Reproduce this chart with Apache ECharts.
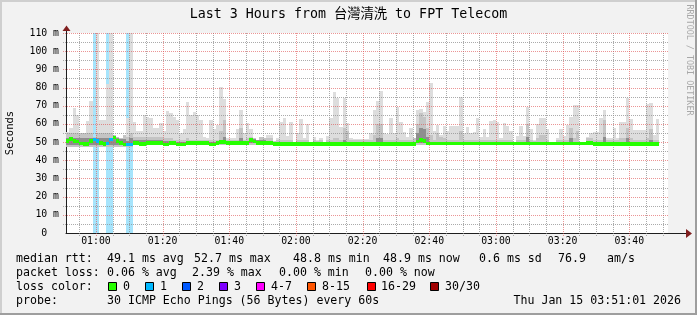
<!DOCTYPE html>
<html><head><meta charset="utf-8">
<script src="https://cdn.jsdelivr.net/npm/echarts@6/dist/echarts.min.js"></script>
<style>html,body{margin:0;padding:0;background:#f2f2f2;overflow:hidden}#c{width:697px;height:315px}</style>
</head><body><div id="c"></div>
<script>
// ---- data (minute-of-day of first column = 00:51) ----
const startMinute = 51;
const graphStart = 51 + 1/60;   // 00:51:01
const smokeMax = [
55.4,57.7,68.7,64.7,55,55,61.4,72.8,53,125,
62,62,82,125,54,53,52,54,63,125,
61,56,56,64.7,64,63,57.7,57.7,60.5,56,
67.3,65.8,64,62,55,57,72.2,64.9,66.7,64.9,
62,53,52,62,57,59.4,80.1,73.5,52,52,
52,57,67.6,55,60.3,57,52,51,53,52,
53.9,53.9,50.5,52,61.2,63,53.4,61.2,50.2,54.8,
62.5,52,60,50,53,51,52,50,53.4,63,
77.5,74,58.5,74.4,60.3,52,51.5,51.5,51.5,51.5,
51.5,54.8,67.6,72.6,78.3,54.8,54.5,63,54.8,69.5,
61.2,55.7,53,57.6,52,67.6,68,66.7,71.9,82.7,
56.3,59.4,53.9,58.8,56,58.8,58.8,58.8,74.6,54.8,
58.5,54.8,55.7,63.4,53,57,53,61.6,62,61.2,
52,60.7,58.8,56,50,53.4,58.8,53.4,69.5,57,
51,59.8,63.4,63.4,57,50,50,52,57,53.5,
59.4,64,70.4,70.4,50,50,53,55,55.7,55.7,
63,67.6,52,52,57.9,52,61.2,61.2,74.4,62.7,
56.6,56.6,56.6,56.6,70.8,71.5,53.9,62.7
];
const smokeMid = [
55,55,55,55,55,55,55,55,53,55,
55,55,55,55,54,54,54,54,53,55,
53,53,53,53,53,53,53,53,53,52,
52,52,51,51,51,51,52,51,51,51,
51,51,51,51,51,51,56,62,51,51,
51,51,58,51,52,53,53,53,53,52,
52,52,50.5,51,51,51,51,51,50.5,51,
51,51,51,50.5,51,50.5,51,50.5,51,51,
52,52,51,58,56,51,51,51,51,51,
51,51,54,60,60,51,51,51,51,52,
51,51,51,51,52,60,66,64,58,54,
51,55,53,52,51,51,51,51,56,51,
51,51,51,51,51,51,51,51,51,51,
51,51,51,51,50.5,51,51,51,60,51,
50.5,52,54,54,51,50.5,50.5,51,51,51,
51,58,52,56,50.5,50.5,52,52,51,51,
51,62,51,51,51,51,52,52,58,52,
51,51,51,51,52,57,51,51
];
const smokeDark = [
52.5,52.5,52.5,52.5,52,52,52,52.5,52,52.5,
52,52,52,52.5,53,52,51.5,51.5,50.5,52,
51,51,51,51,51,51,51,51,51,50.5,
50.5,50.5,50,50,50,50,50,50,50,50,
50,50,50,50,50,50,51,53,50,50,
50,50,52,50,50,51.5,51.5,51,51,51,
50,50,50,50,50,50,50,50,50,50,
50,50,50,50,50,50,50,50,50,50,
50,50,50,51,50,50,50,50,50,50,
50,50,50,52,52,50,50,50,50,50,
50,50,50,50,50,55,58,57,53,50,
50,50,50,50,50,50,50,50,50,50,
50,50,50,50,50,50,50,50,50,50,
50,50,50,50,50,50,50,50,53,50,
50,50,50,50,50,50,50,50,50,50,
50,52,50,50,50,50,50,50,50,50,
50,53,50,50,50,50,50,50,52,50,
50,50,50,50,50,51,50,50
];
const smokeMin = [
47.5,47.5,47.5,47.5,47.5,47.5,47.5,47.5,47.5,47.5,
47.5,47.5,47.5,47.5,47.5,47.5,47.5,47.5,47.5,47.5
]; // remaining columns use smokeMinDefault
const smokeMinDefault = 48.3;
const median = [
50.7,51.7,50.7,50.2,49.3,49.0,49.0,50.5,51.5,50.5,
49.5,49.0,49.3,51.5,52.6,50.5,49.5,48.6,48.8,48.8,
49.4,49.4,48.9,48.9,49.4,49.4,49.4,49.4,49.4,48.8,
48.8,49.4,49.4,48.7,48.7,48.7,49.4,49.4,49.4,49.4,
49.4,49.4,49.4,48.8,48.8,49.4,50.0,50.0,49.4,49.4,
49.4,49.4,49.4,49.4,49.4,51.2,50.4,49.4,49.4,49.4,
49.4,49.4,48.9,48.9,48.9,48.9,48.9,48.9,48.9,48.9,
48.9,48.9,48.9,48.9,48.9,48.9,48.9,48.9,48.9,48.9,
48.9,48.9,48.9,48.9,48.9,48.9,48.9,48.9,48.9,48.9,
48.9,48.9,48.9,48.9,48.9,48.9,48.9,48.9,48.9,48.9,
48.9,48.9,48.9,48.9,48.9,50.3,51.2,50.6,49.2,49.2,
49.2,49.2,49.2,49.2,49.2,49.2,49.2,49.2,49.2,49.2,
49.2,49.2,49.2,49.2,49.2,49.2,49.2,49.2,49.2,49.2,
49.2,49.2,49.2,49.2,49.2,49.2,49.2,49.2,49.2,49.2,
49.2,49.2,49.2,49.2,49.2,49.2,49.2,49.2,49.2,49.2,
49.2,49.2,49.2,49.2,49.2,49.2,49.5,49.6,49.0,49.0,
49.0,49.0,49.0,49.0,49.0,49.0,49.0,49.0,49.0,49.0,
49.0,49.0,49.0,49.0,49.0,49.0,49.0,49.0
];
const lossPings = new Array(median.length).fill(0);
const lossColumns = [8,9,12,13,18,19];
lossColumns.forEach(c => { lossPings[c] = 1; });

const xTickMinutes = [60,80,100,120,140,160,180,200,220];
const yTickValues = [0,10,20,30,40,50,60,70,80,90,100,110];
const xGridMinutes = []; for (let m = 55; m <= 230; m += 5) xGridMinutes.push(m);
const yGridValues = []; for (let v = 5; v <= 110; v += 5) yGridValues.push(v);

const lossLabels = ['0','1','2','3','4-7','8-15','16-29','30/30'];
const lossColors = ['#26ff00','#00b8ff','#0059ff','#7e00ff','#ff00ff','#ff5500','#ff0000','#a00000'];
const title = 'Last 3 Hours from 台灣清洗 to FPT Telecom';
const medianStats = ['49.1 ms avg','52.7 ms max','48.8 ms min','48.9 ms now','0.6 ms sd','76.9','am/s'];
const lossStats = ['0.06 % avg','2.39 % max','0.00 % min','0.00 % now'];
const probeText = '30 ICMP Echo Pings (56 Bytes) every 60s';
const stampText = 'Thu Jan 15 03:51:01 2026';

// ---- layout / style ----
const MONO = '"DejaVu Sans Mono","Noto Sans CJK TC",monospace';
const YTOP = 110;
const lossBarColor = '#a6e4fc';
const gridColor = 'rgba(143,143,143,0.75)';
const mgridColor = 'rgba(222,79,79,0.6)';
const medianXPos = [107,194,293,383,479,558,607];
const lossXPos = [107,192,279,365];
const boxXPos = [108,145,182,219,256,307,367,430];
const boxLabelXPos = [123,160,197,234,271,322,381,445];

function colRect(api, t, lo, hi) {
  hi = Math.min(hi, YTOP); lo = Math.max(lo, 0);
  const a = api.coord([t, hi]), b = api.coord([t + 1, lo]);
  const x0 = Math.round(a[0]), x1 = Math.round(b[0]);
  const y0 = Math.round(a[1]), y1 = Math.round(b[1]);
  return {x: x0, y: y0, width: x1 - x0, height: y1 - y0};
}

const lossData = [];
lossPings.forEach((l, i) => { if (l > 0) lossData.push([startMinute + i, l]); });
const smokeData = smokeMax.map((mx, i) => [startMinute + i,
  i < smokeMin.length ? smokeMin[i] : smokeMinDefault, smokeDark[i], smokeMid[i], mx]);
const medianData = median.map((m, i) => [startMinute + i, m, lossPings[i]]);

const gt = (t) => { const h = Math.floor(t / 60), m = t % 60; return (h < 10 ? '0' : '') + h + ':' + (m < 10 ? '0' : '') + m; };

const T = (text, x, y, extra) => Object.assign({type: 'text', x: x, y: y,
  style: Object.assign({text: text, font: '11.6px ' + MONO, fill: '#000', verticalAlign: 'middle', align: 'left'}, extra || {})});

const graphics = [
  {type: 'rect', shape: {x: 66, y: 33, width: 602, height: 200}, style: {fill: '#ffffff'}, z: -10},
  {type: 'rect', shape: {x: 0, y: 0, width: 697, height: 2}, style: {fill: '#cfcfcf'}},
  {type: 'rect', shape: {x: 0, y: 0, width: 2, height: 315}, style: {fill: '#cfcfcf'}},
  {type: 'rect', shape: {x: 0, y: 313, width: 697, height: 2}, style: {fill: '#9e9e9e'}},
  {type: 'rect', shape: {x: 695, y: 0, width: 2, height: 315}, style: {fill: '#9e9e9e'}},
  {type: 'polygon', shape: {points: [[62.5, 31], [70.5, 31], [66.5, 25.5]]}, style: {fill: '#801f1f'}, z: 10},
  {type: 'polygon', shape: {points: [[686, 229], [686, 238], [692, 233.5]]}, style: {fill: '#801f1f'}, z: 10},
  {type: 'text', x: 348.5, y: 15, style: {text: title, font: '13.3px ' + MONO, fill: '#000', align: 'center', verticalAlign: 'middle'}},
  {type: 'text', x: 10, y: 133, rotation: Math.PI / 2, style: {text: 'Seconds', font: '10.5px ' + MONO, fill: '#000', align: 'center', verticalAlign: 'middle'}},
  {type: 'text', x: 689, y: 60, rotation: -Math.PI / 2, style: {text: 'RRDTOOL / TOBI OETIKER', font: '8.4px ' + MONO, fill: '#a8a8a8', align: 'center', verticalAlign: 'middle'}},
  T('median rtt:', 16, 259),
  T('packet loss:', 16, 273),
  T('loss color:', 16, 287),
  T('probe:', 16, 301),
  T(probeText, 107, 301),
  T(stampText, 681, 301, {align: 'right'})
];
medianStats.forEach((s, i) => graphics.push(T(s, medianXPos[i], 259)));
lossStats.forEach((s, i) => graphics.push(T(s, lossXPos[i], 273)));
lossLabels.forEach((s, i) => {
  graphics.push({type: 'rect', shape: {x: boxXPos[i] + 0.5, y: 282.5, width: 8, height: 8},
    style: {fill: lossColors[i], stroke: '#000', lineWidth: 1}});
  graphics.push(T(s, boxLabelXPos[i], 287));
});

const chart = echarts.init(document.getElementById('c'), null, {renderer: 'canvas', width: 697, height: 315});
chart.setOption({
  animation: false,
  backgroundColor: '#f2f2f2',
  grid: {left: 66, right: 10, top: 30, bottom: 82, containLabel: false},
  xAxis: {
    type: 'value', min: graphStart, max: graphStart + 621 / (10 / 3),
    axisLine: {show: true, lineStyle: {color: '#1f1f1f', width: 1}},
    axisTick: {show: false}, splitLine: {show: false},
    axisLabel: {customValues: xTickMinutes, formatter: v => gt(Math.round(v)), color: '#000',
      fontFamily: MONO, fontSize: 9.8, margin: 4}
  },
  yAxis: {
    type: 'value', min: 0, max: 203 / (200 / 110),
    axisLine: {show: true, lineStyle: {color: '#1f1f1f', width: 1}},
    axisTick: {show: false}, splitLine: {show: false},
    axisLabel: {customValues: yTickValues, formatter: v => v === 0 ? '0  ' : v + ' m', color: '#000',
      fontFamily: MONO, fontSize: 9.8, margin: 7}
  },
  graphic: graphics,
  series: [
    {
      type: 'custom', name: 'loss', data: lossData, encode: {x: 0, y: 1}, clip: false,
      renderItem: (params, api) => ({type: 'rect', shape: colRect(api, api.value(0), 0, YTOP), style: {fill: lossBarColor}})
    },
    {
      type: 'custom', name: 'smoke', data: smokeData, encode: {x: 0, y: 4}, clip: false,
      renderItem: (params, api) => {
        const t = api.value(0), lo = api.value(1), dk = api.value(2), md = api.value(3), hi = api.value(4);
        const ch = [{type: 'rect', shape: colRect(api, t, lo, hi), style: {fill: '#dddddd'}}];
        if (md > lo) ch.push({type: 'rect', shape: colRect(api, t, lo, Math.min(md, hi)), style: {fill: '#c4c4c4'}});
        if (dk > lo) ch.push({type: 'rect', shape: colRect(api, t, lo + 1, Math.min(dk, hi)), style: {fill: '#8e8e8e'}});
        return {type: 'group', children: ch};
      }
    },
    {
      type: 'custom', name: 'vgrid', data: xGridMinutes.map(m => [m, m % 20 === 0 ? 1 : 0]), encode: {x: 0}, clip: false,
      renderItem: (params, api) => {
        const t = api.value(0);
        const x = Math.round(api.coord([t, 0])[0]) + 0.5;
        const yb = Math.round(api.coord([t, 0])[1]) + 3;
        const yt = Math.round(api.coord([t, YTOP])[1]);
        return {type: 'line', shape: {x1: x, y1: yb, x2: x, y2: yt},
          style: {stroke: api.value(1) ? mgridColor : gridColor, lineWidth: 1, lineDash: [1, 1]}};
      }
    },
    {
      type: 'custom', name: 'hgrid', data: yGridValues.map(v => [v, v % 10 === 0 ? 1 : 0]), encode: {y: 0}, clip: false,
      renderItem: (params, api) => {
        const v = api.value(0);
        const y = Math.round(api.coord([graphStart, v])[1]) + 0.5;
        const x1 = Math.round(api.coord([graphStart, v])[0]) - 3;
        const x2 = Math.round(api.coord([231.6, v])[0]);
        return {type: 'line', shape: {x1: x1, y1: y, x2: x2, y2: y},
          style: {stroke: api.value(1) ? mgridColor : gridColor, lineWidth: 1, lineDash: [1, 1]}};
      }
    },
    {
      type: 'custom', name: 'median', data: medianData, encode: {x: 0, y: 1}, clip: false,
      renderItem: (params, api) => {
        const t = api.value(0), m = api.value(1), l = api.value(2);
        return {type: 'rect', shape: colRect(api, t, m - 0.95, m + 0.95), style: {fill: lossColors[l]}};
      }
    }
  ]
});
</script>
</body></html>
